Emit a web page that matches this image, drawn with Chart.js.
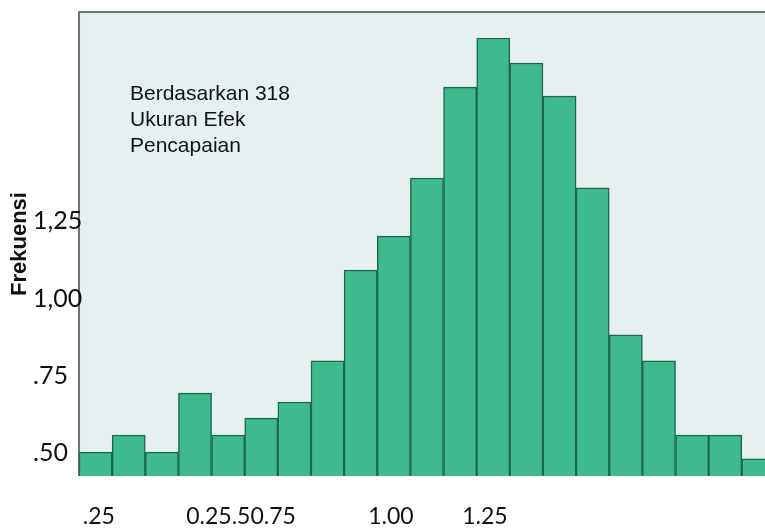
<!DOCTYPE html>
<html>
<head>
<meta charset="utf-8">
<script src="https://cdn.jsdelivr.net/npm/chart.js@4.4.1/dist/chart.umd.min.js"></script>
<style>
  html, body { margin: 0; padding: 0; background: #fff; }
  #wrap { width: 765px; height: 528px; }
</style>
</head>
<body>
<div id="wrap"><canvas id="histChart"></canvas></div>
<script>
// bin index of each bar and its height
const bins = [0, 1, 2, 3, 4, 5, 6, 7, 8, 9, 10, 11, 12, 13, 14, 15, 16, 17, 18, 19, 20];
const freq = [0.503, 0.558, 0.503, 0.694, 0.558, 0.613, 0.665, 0.798, 1.092, 1.202, 1.390,
              1.684, 1.843, 1.762, 1.655, 1.358, 0.882, 0.798, 0.558, 0.558, 0.481];

// tick labels as they appear
const yTickValues = [0.5, 0.75, 1.0, 1.25];
const yTickLabels = ['.50', '.75', '1,00', '1,25'];
const xTickValues = [0.1, 4.39, 8.91, 11.75];
const xTickLabels = ['.25', '0.25.50.75', '1.00', '1.25'];

const noteLines = ['Berdasarkan 318', 'Ukuran Efek', 'Pencapaian'];
const yTitle = 'Frekuensi';

const plotFrame = {
    id: 'plotFrame',
    beforeDraw(chart) {
        const { ctx, chartArea: a } = chart;
        // frame starts at the left edge of the first bin
        const left = chart.scales.x.getPixelForValue(bins[0] - 0.5);
        ctx.save();
        ctx.fillStyle = '#e7f0f1';
        ctx.fillRect(left, a.top, a.right - left, a.bottom - a.top);
        ctx.strokeStyle = '#6f7374';
        ctx.lineWidth = 2;
        ctx.beginPath();
        ctx.moveTo(left, a.bottom);
        ctx.lineTo(left, a.top);
        ctx.lineTo(a.right, a.top);
        ctx.stroke();
        ctx.restore();
    },
    afterDraw(chart) {
        const { ctx } = chart;
        ctx.save();
        ctx.fillStyle = '#111';
        ctx.font = '21px "Liberation Sans", Arial, sans-serif';
        ctx.textAlign = 'left';
        ctx.textBaseline = 'alphabetic';
        noteLines.forEach((t, i) => ctx.fillText(t, 130, 100 + i * 26));

        ctx.font = 'bold 22px "Liberation Sans", Arial, sans-serif';
        ctx.translate(20, 244);
        ctx.rotate(-Math.PI / 2);
        ctx.textAlign = 'center';
        ctx.textBaseline = 'middle';
        ctx.fillText(yTitle, 0, 0);
        ctx.restore();
    }
};

const ctx = document.getElementById('histChart').getContext('2d');
const histChart = new Chart(ctx, {
    type: 'bar',
    data: {
        datasets: [{
            data: bins.map((b, i) => ({ x: b, y: freq[i] })),
            backgroundColor: '#3fba8e',
            borderColor: '#1b6a4c',
            borderWidth: 1.5,
            barPercentage: 1,
            categoryPercentage: 1,
            clip: { left: false, top: 0, right: 0, bottom: 0 }
        }]
    },
    options: {
        responsive: true,
        maintainAspectRatio: false,
        animation: false,
        layout: { padding: { top: 0, left: 33, right: 0, bottom: 0 } },
        plugins: {
            legend: { display: false },
            tooltip: { enabled: false }
        },
        scales: {
            x: {
                type: 'linear',
                offset: false,
                min: -0.078,
                max: 20.2,
                grid: { display: false, drawTicks: false, offset: false },
                border: { display: false },
                afterBuildTicks(scale) {
                    scale.ticks = xTickValues.map(v => ({ value: v }));
                },
                afterFit(scale) { scale.height = 52; },
                ticks: {
                    autoSkip: false,
                    maxRotation: 0,
                    padding: 27,
                    color: '#111',
                    font: { family: 'Lato', size: 23 },
                    callback: (v, i) => xTickLabels[i]
                }
            },
            y: {
                min: 0.4256,
                max: 1.927,
                grid: { display: false, drawTicks: false },
                border: { display: false },
                afterBuildTicks(scale) {
                    scale.ticks = yTickValues.map(v => ({ value: v }));
                },
                afterFit(scale) { scale.width = 60; },
                ticks: {
                    crossAlign: 'far',
                    padding: 0,
                    color: '#111',
                    font: { family: 'Lato', size: 25, lineHeight: 0.96 },
                    callback: (v, i) => yTickLabels[i]
                }
            }
        }
    },
    plugins: [plotFrame]
});
</script>
</body>
</html>
